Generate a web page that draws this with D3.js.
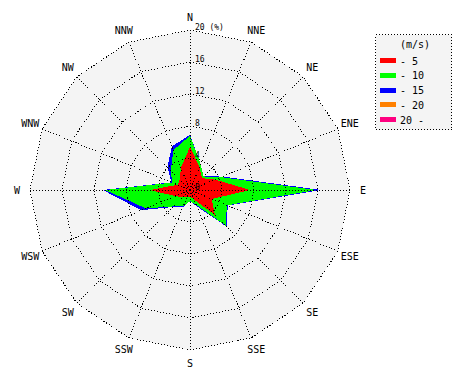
<!DOCTYPE html>
<html><head><meta charset="utf-8">
<script src="https://cdn.jsdelivr.net/npm/d3@7"></script>
<style>body{margin:0;background:#fff}svg{display:block}</style>
</head><body>
<svg id="c" width="470" height="380"></svg>
<script>
const directions = ["N","NNE","NE","ENE","E","ESE","SE","SSE","S","SSW","SW","WSW","W","WNW","NW","NNW"];
const speedLabels = ["- 5","- 10","- 15","- 20","20 -"];
const speedColors = ["#ff0000","#00ff00","#0000ff","#ff8000","#ff0080"];
// frequency (%) per speed class, per direction
const upTo5   = [5.4,3.1,2.1,3.4,7.5,2.95,4.4,1.3,0.8,1.0,1.3,2.0,5.0,1.7,1.8,3.0];
const from5   = [1.4,0.4,0.3,0.8,8.3,2.05,1.9,0.7,0.6,1.2,1.6,4.0,5.6,0.7,1.6,2.4];
const from10  = [0.1,0.0,0.0,0.2,0.6,0.1,0.2,0.2,0.0,0.1,0.1,0.6,0.3,0.1,0.6,0.5];
const from15  = [0,0,0,0,0,0,0,0,0,0,0,0,0,0,0,0];
const over20  = [0,0,0,0,0,0,0,0,0,0,0,0,0,0,0,0];
const ringTicks = [0,4,8,12,16,20];

const series = [upTo5, from5, from10, from15, over20];
const svg = d3.select("#c");
const cx = 190, cy = 190;
const g = svg.append("g").attr("transform", `translate(${cx},${cy})`);
const r = d3.scaleLinear().domain([0,20]).range([0,160]);
const ang = d3.scalePoint().domain(directions).range([0, 2*Math.PI*15/16]);

// cumulative
const cum = [];
series.forEach((s,i)=>{ cum.push(s.map((v,j)=> v + (i? cum[i-1][j]:0))); });

const ringLine = d3.lineRadial().angle(d=>ang(d)).curve(d3.curveLinearClosed);

// background
g.append("path").attr("d", ringLine.radius(()=>r(20))(directions)).attr("fill","#f4f4f4")
 .attr("shape-rendering","crispEdges");

// data polygons, outer first
for (let i = cum.length-1; i>=0; i--) {
  const vals = cum[i];
  const line = d3.lineRadial().angle((d,j)=>ang(directions[j])).radius(d=>r(d)).curve(d3.curveLinearClosed);
  g.append("path").attr("d", line(vals)).attr("fill", speedColors[i]).attr("stroke","none")
   .attr("shape-rendering","crispEdges");
}

// grid rings
ringTicks.filter(t=>t>0).forEach(t=>{
  g.append("path").attr("d", d3.lineRadial().angle(d=>ang(d)).radius(()=>r(t)).curve(d3.curveLinearClosed)(directions))
   .attr("fill","none").attr("stroke","#000").attr("stroke-width",1).attr("stroke-dasharray","1,2")
   .attr("shape-rendering","crispEdges");
});
// spokes
directions.forEach(d=>{
  const a = ang(d);
  g.append("line").attr("x1",0).attr("y1",0)
   .attr("x2", r(20)*Math.sin(a)).attr("y2", -r(20)*Math.cos(a))
   .attr("stroke","#000").attr("stroke-width",1).attr("stroke-dasharray","1,2")
   .attr("shape-rendering","crispEdges");
});

// ring labels
ringTicks.forEach(t=>{
  g.append("text").attr("x",5).attr("y",-r(t)-0.5)
   .attr("font-family","DejaVu Sans Mono").attr("font-size",8).attr("fill","#000")
   .text(t===20 ? "20 (%)" : t);
});

// direction labels
directions.forEach(d=>{
  const a = ang(d), rr = 173;
  g.append("text").attr("x", rr*Math.sin(a)).attr("y", -rr*Math.cos(a))
   .attr("text-anchor","middle").attr("dominant-baseline","central")
   .attr("font-family","DejaVu Sans Mono").attr("font-size",10).attr("fill","#000").text(d);
});

// legend
const lg = svg.append("g").attr("transform","translate(375,34)");
lg.append("rect").attr("x",0.5).attr("y",0.5).attr("width",76).attr("height",95)
  .attr("fill","#f4f4f4").attr("stroke","#000").attr("stroke-dasharray","1,2")
  .attr("shape-rendering","crispEdges");
lg.append("text").attr("x",40).attr("y",14).attr("text-anchor","middle")
  .attr("font-family","DejaVu Sans Mono").attr("font-size",10).text("(m/s)");
speedLabels.forEach((s,i)=>{
  const y = 27 + i*14.8;
  lg.append("rect").attr("x",5).attr("y",y-3).attr("width",16).attr("height",5).attr("fill",speedColors[i])
    .attr("shape-rendering","crispEdges");
  lg.append("text").attr("x",25).attr("y",y+3.5)
    .attr("font-family","DejaVu Sans Mono").attr("font-size",10).text(s);
});
</script>
</body></html>
